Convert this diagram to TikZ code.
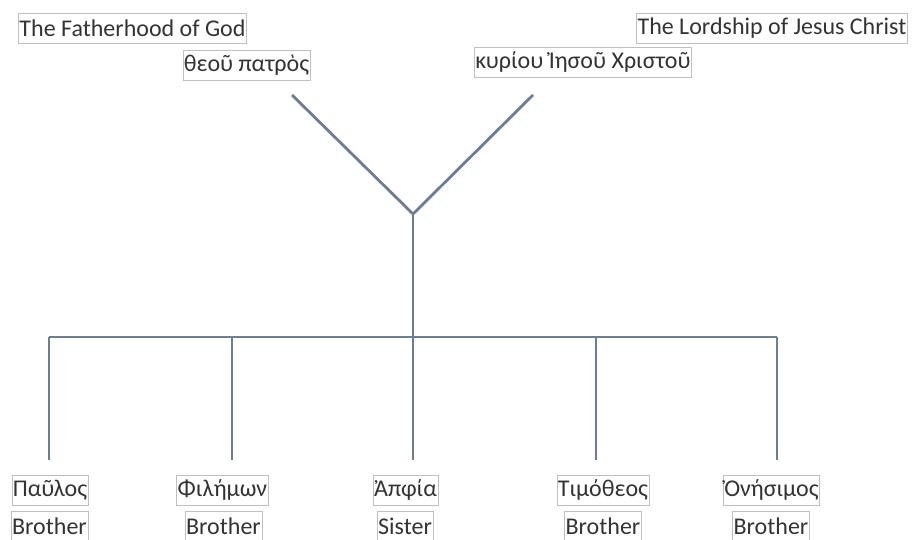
\documentclass[tikz,border=0pt]{standalone}
\usepackage{fontspec}
\setmainfont{Carlito}
\begin{document}
\begin{tikzpicture}[x=1pt,y=-1pt,
  lbl/.style={draw=black!25, line width=0.6pt, inner xsep=1pt, inner ysep=1pt, text=black!80,
    font=\fontsize{24}{28}\selectfont, minimum height=30pt},
  conn/.style={draw=lineblue, line width=2.8pt}]
\definecolor{lineblue}{HTML}{6E7C94}
\useasboundingbox (0,0) rectangle (915,540);
% top labels
\node[lbl] (fath) at (132.5,28) {The Fatherhood of God};
\node[lbl] (theou) at (246.5,65) {θεοῦ πατρὸς};
\node[lbl] (lord) at (772,28.5) {The Lordship of Jesus Christ};
\node[lbl] (kyriou) at (583,62) {κυρίου Ἰησοῦ Χριστοῦ};
% bottom labels
\node[lbl] (paul) at (50,490) {Παῦλος};
\node[lbl] (paulr) at (49.5,526) {Brother};
\node[lbl] (phil) at (222.5,490) {Φιλήμων};
\node[lbl] (philr) at (223.5,526) {Brother};
\node[lbl] (apph) at (405.5,490) {Ἀπφία};
\node[lbl] (apphr) at (405,526) {Sister};
\node[lbl] (tim) at (603,490) {Τιμόθεος};
\node[lbl] (timr) at (603,526) {Brother};
\node[lbl] (ones) at (771.5,490) {Ὀνήσιμος};
\node[lbl] (onesr) at (771,526) {Brother};
% tree coordinates
\coordinate (la) at (292,95);
\coordinate (ra) at (533,95);
\coordinate (v) at (413,214);
\coordinate (h1) at (49,337);
\coordinate (h2) at (232,337);
\coordinate (h4) at (596,337);
\coordinate (h5) at (777,337);
\coordinate (b1) at (49,460);
\coordinate (b2) at (232,460);
\coordinate (b3) at (413,460);
\coordinate (b4) at (596,460);
\coordinate (b5) at (777,460);
\draw[conn, line join=miter] (la) -- (v) -- (ra);
\draw[conn] (v) -- (b3);
\draw[conn] (h1) -- (h5);
\draw[conn] (h1) -- (b1);
\draw[conn] (h2) -- (b2);
\draw[conn] (h4) -- (b4);
\draw[conn] (h5) -- (b5);
\end{tikzpicture}
\end{document}
